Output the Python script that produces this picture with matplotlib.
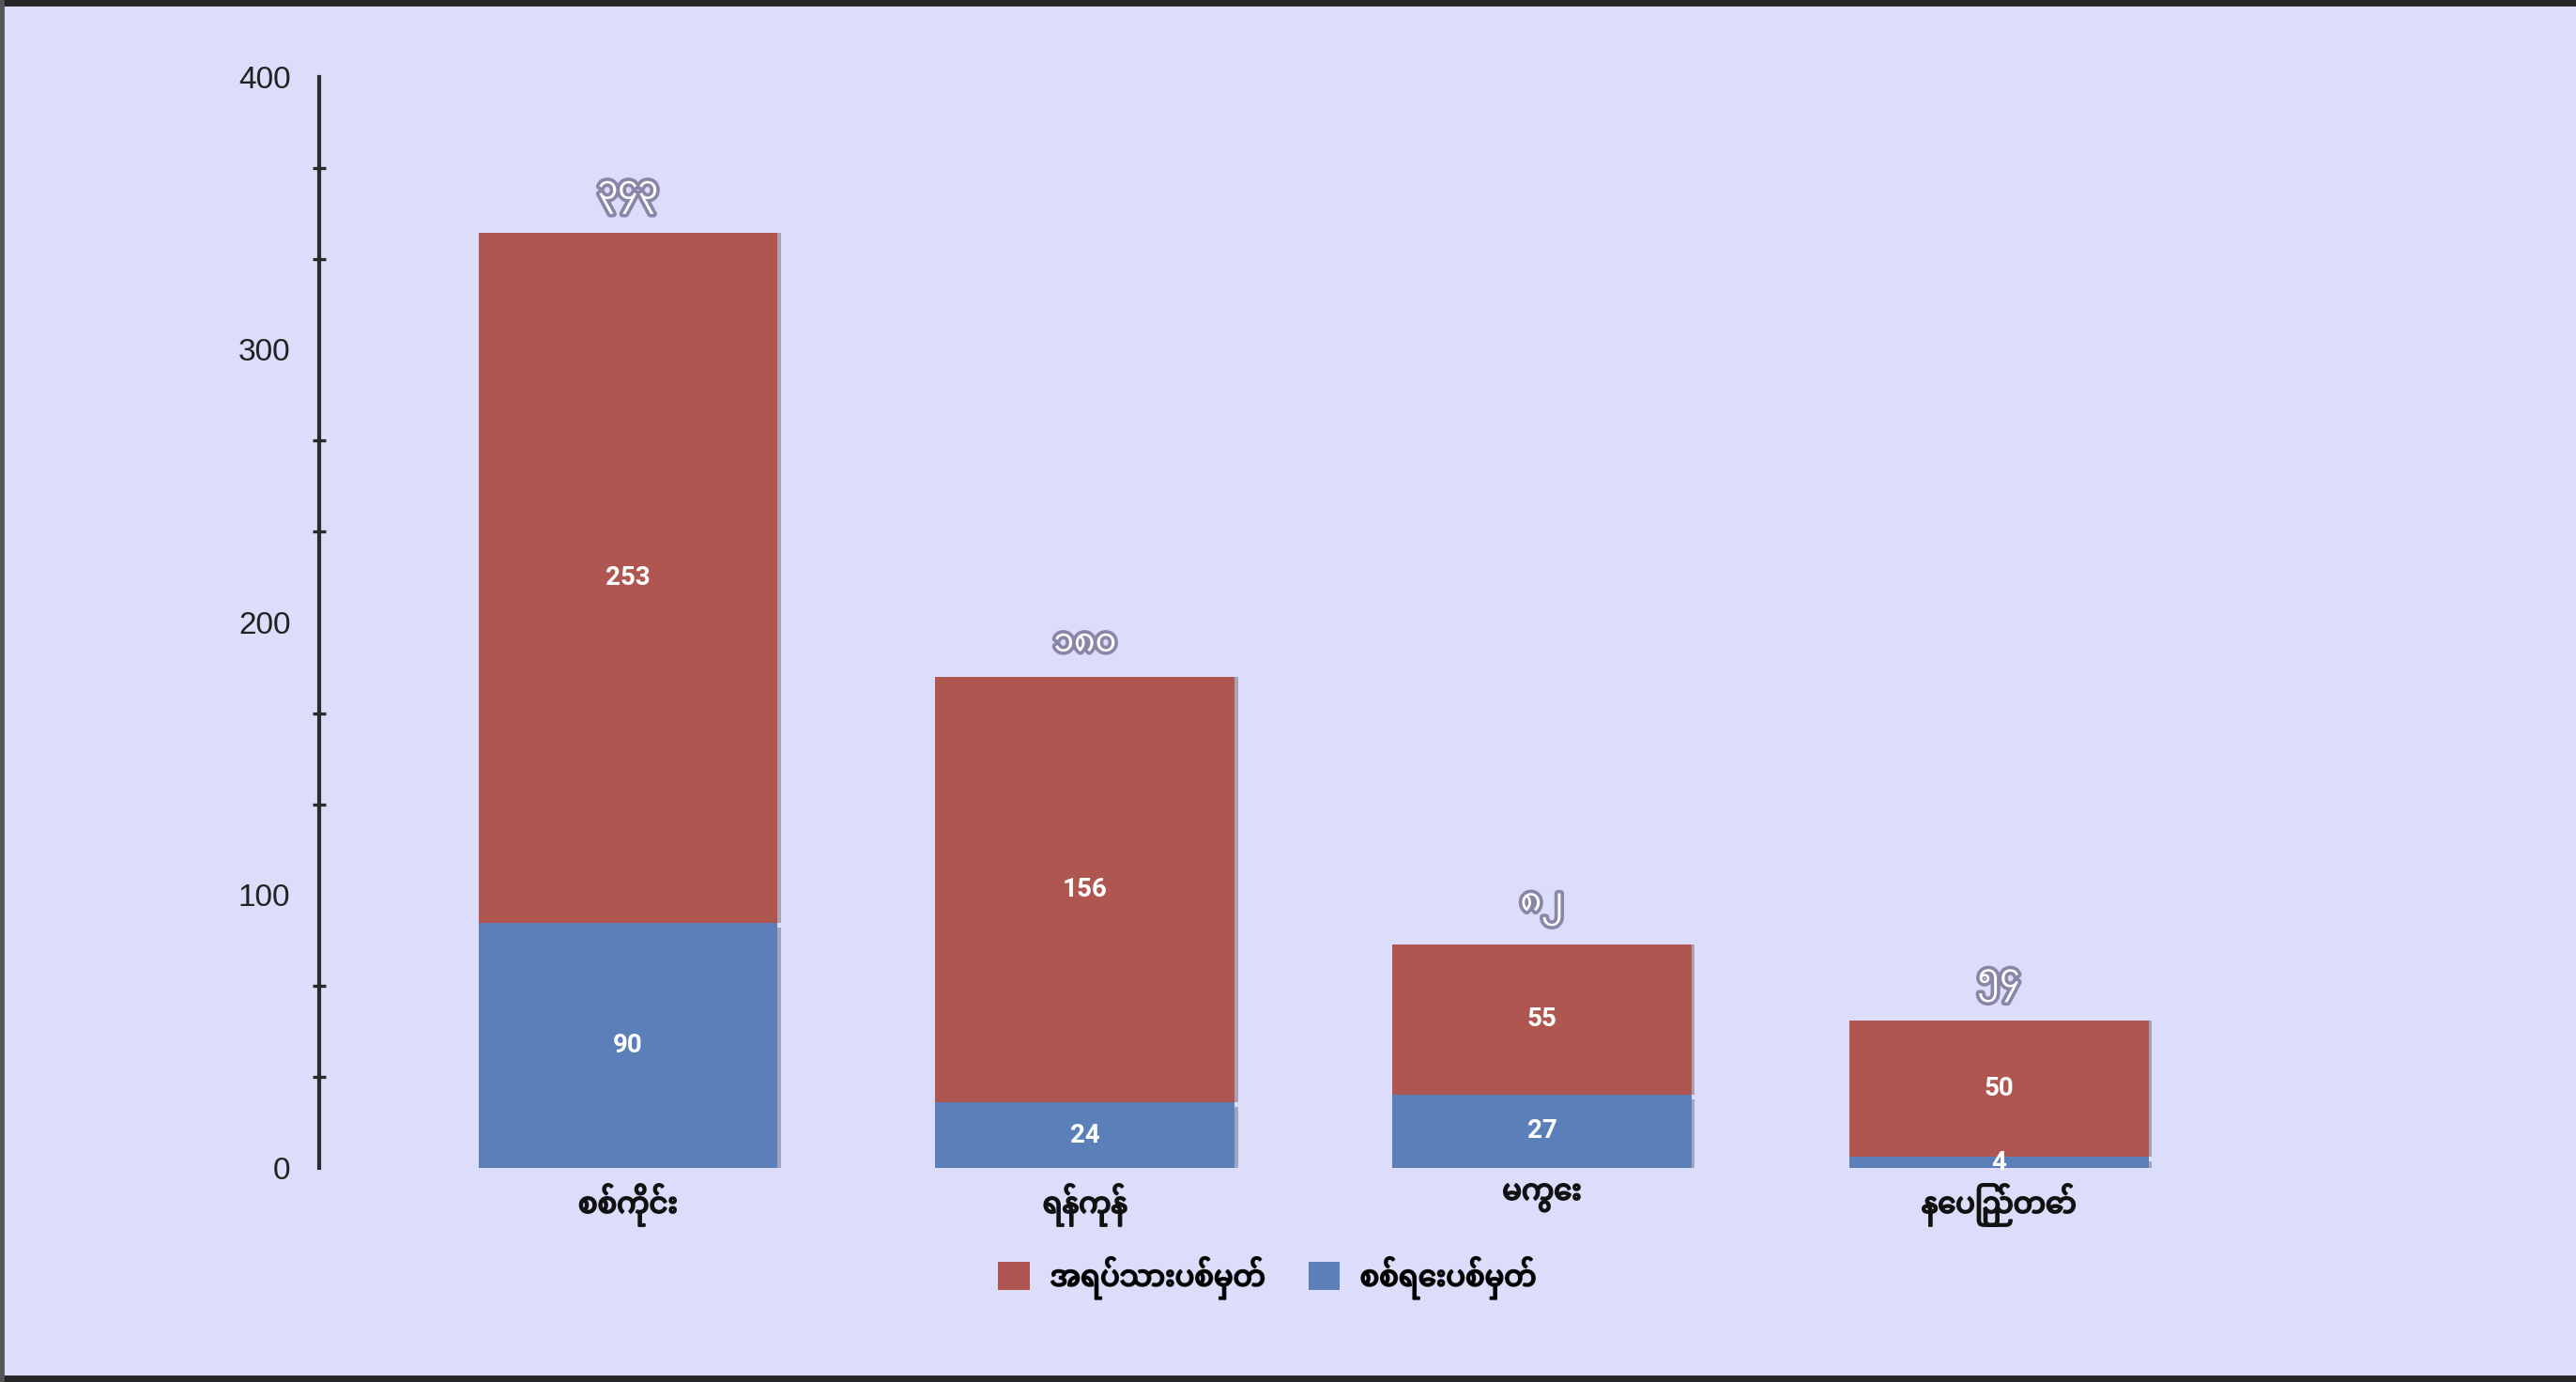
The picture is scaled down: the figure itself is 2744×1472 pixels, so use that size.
import matplotlib
matplotlib.use("Agg")
import matplotlib.pyplot as plt
import matplotlib.patheffects as pe
from matplotlib.patches import Rectangle, Patch
from matplotlib.ticker import FixedLocator
import numpy as np

# data
regions = ['စစ်ကိုင်း', 'ရန်ကုန်', 'မကွေး', 'နေပြည်တော်']
military = [90, 24, 27, 4]
civilian = [253, 156, 55, 50]
totals_mm = ['၃၄၃', '၁၈၀', '၈၂', '၅၄']
series_names = ['အရပ်သားပစ်မှတ်', 'စစ်ရေးပစ်မှတ်']
y_ticks = [0, 100, 200, 300, 400]

red = '#B05650'
blue = '#5B7FB8'
bg = '#DCDDFA'

plt.rcParams['font.family'] = ['Liberation Sans', 'Noto Sans Myanmar', 'DejaVu Sans']
mm_fam = ['Noto Sans Myanmar', 'DejaVu Sans']
num_fam = ['Roboto', 'DejaVu Sans']
# no bold Myanmar face installed, thicken the strokes instead
heavy = [pe.withStroke(linewidth=0.7, foreground='#111111')]

fig = plt.figure(figsize=(13.72, 7.36), dpi=200, facecolor=bg)
ax = fig.add_axes([0.1239, 0.1549, 0.772, 0.7894])
ax.set_facecolor(bg)

x = np.arange(len(regions))
b1 = ax.bar(x, military, width=0.655, color=blue, zorder=3)
b2 = ax.bar(x, civilian, width=0.655, bottom=military, color=red, zorder=3)
for r in b1:
    r.set_path_effects([pe.SimplePatchShadow(offset=(1.2, -1.8), alpha=0.3), pe.Normal()])
for r in b2:
    r.set_path_effects([pe.SimplePatchShadow(offset=(1.2, 0), alpha=0.3), pe.Normal()])

for i in range(len(regions)):
    ax.text(x[i], military[i] / 2, str(military[i]), ha='center', va='center',
            color='white', fontsize=10, fontweight='bold', family=num_fam, zorder=5)
    ax.text(x[i], military[i] + civilian[i] / 2, str(civilian[i]), ha='center',
            va='center', color='white', fontsize=10, fontweight='bold', family=num_fam,
            zorder=5)
    ax.annotate(totals_mm[i], (x[i], military[i] + civilian[i]), xytext=(0, 7),
                textcoords='offset points', ha='center', va='bottom', fontsize=12.5,
                color='white', fontweight='bold', family=mm_fam, zorder=5,
                path_effects=[pe.withStroke(linewidth=2.6, foreground='#8a86a8')])

ax.set_xlim(-0.676, 3.676)
ax.set_ylim(0, 400)
for s in ['top', 'right', 'bottom']:
    ax.spines[s].set_visible(False)
ax.spines['left'].set_color('#2b2b2b')
ax.spines['left'].set_linewidth(1.5)
ax.yaxis.set_major_locator(FixedLocator(y_ticks))
ax.yaxis.set_minor_locator(FixedLocator([v for v in np.arange(0, 400, 100 / 3)
                                         if round(v) % 100 != 0]))
ax.tick_params(axis='y', which='major', length=0, pad=11, labelsize=12, labelcolor='#222222')
ax.tick_params(axis='y', which='minor', direction='inout', length=5, width=1.2, color='#2b2b2b')
ax.set_xticks(x)
ax.set_xticklabels(regions, fontsize=11, color='#111111', family=mm_fam)
ax.tick_params(axis='x', length=0, pad=6)
for t in ax.get_xticklabels():
    t.set_path_effects(heavy)

handles = [Patch(facecolor=red, label=series_names[0]),
           Patch(facecolor=blue, label=series_names[1])]
leg = fig.legend(handles=handles, loc='center', bbox_to_anchor=(0.492, 0.0754), ncol=2,
                 frameon=False, prop={'family': mm_fam, 'size': 11},
                 handlelength=1.1, handleheight=1.1, columnspacing=1.5, handletextpad=0.7)
for t in leg.get_texts():
    t.set_path_effects(heavy)

# screenshot frame edges
fig.patches.append(Rectangle((0, 0.9965), 1, 0.0035, transform=fig.transFigure, color='#262626'))
fig.patches.append(Rectangle((0, 0), 1, 0.004, transform=fig.transFigure, color='#262626'))
fig.patches.append(Rectangle((0, 0), 0.0012, 1, transform=fig.transFigure, color='#555555'))

fig.savefig('out.png', dpi=200, facecolor=bg)
